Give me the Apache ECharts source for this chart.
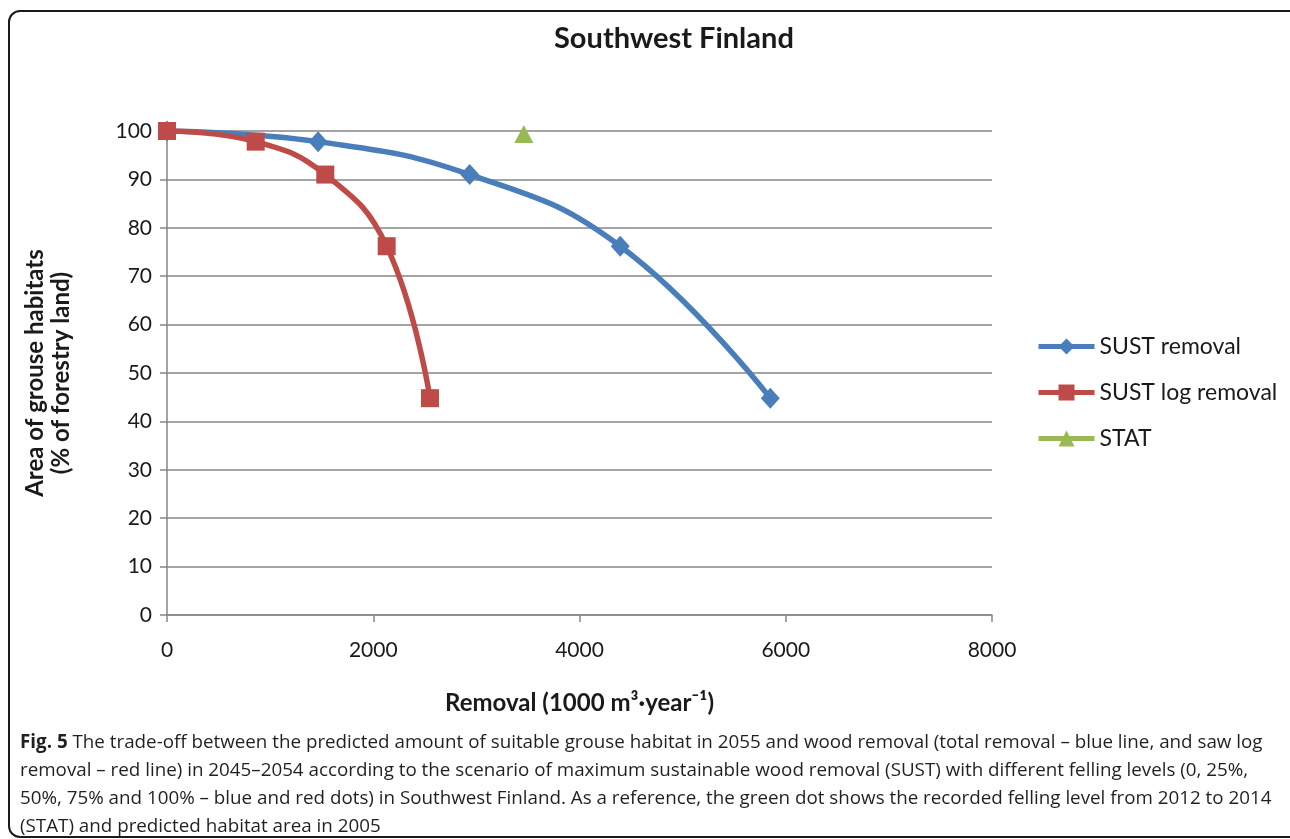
<!DOCTYPE html>
<html>
<head>
<meta charset="utf-8">
<script src="https://cdn.jsdelivr.net/npm/echarts@6/dist/echarts.min.js"></script>
<style>
  html, body { margin: 0; padding: 0; background: #ffffff; width: 1290px; height: 839px; overflow: hidden; }
  #frame { position: absolute; left: 8px; top: 10px; width: 1300px; height: 828px; border: 2px solid #1a1a1a; border-radius: 12px; box-sizing: border-box; }
  #chart { position: absolute; left: 0; top: 0; width: 1290px; height: 839px; }
  #caption { position: absolute; left: 20px; top: 727px; font-family: "Open Sans", "Noto Sans", sans-serif; font-size: 18.8px; line-height: 28px; color: #231f20; white-space: nowrap; }
  #caption b { font-weight: 700; }
</style>
</head>
<body>
<div id="frame"></div>
<div id="chart"></div>
<div id="caption"><b>Fig. 5</b> The trade-off between the predicted amount of suitable grouse habitat in 2055 and wood removal (total removal – blue line, and saw log<br>removal – red line) in 2045–2054 according to the scenario of maximum sustainable wood removal (SUST) with different felling levels (0, 25%,<br>50%, 75% and 100% – blue and red dots) in Southwest Finland. As a reference, the green dot shows the recorded felling level from 2012 to 2014<br>(STAT) and predicted habitat area in 2005</div>
<script>
// ---- data ----
const seriesNames = ['SUST removal', 'SUST log removal', 'STAT'];
const sustRemoval = [0, 1465, 2935, 4395, 5850];
const sustHabitat = [100, 97.8, 91.0, 76.2, 44.8];
const logRemoval = [0, 860, 1535, 2130, 2550];
const logHabitat = [100, 97.8, 91.0, 76.2, 44.8];
const statRemoval = [3460];
const statHabitat = [99.4];
const xTicks = [0, 2000, 4000, 6000, 8000];
const yTicks = [0, 10, 20, 30, 40, 50, 60, 70, 80, 90, 100];

const pairs = (xs, ys) => xs.map((x, i) => [x, ys[i]]);

const chart = echarts.init(document.getElementById('chart'), null, { renderer: 'canvas' });
const FONT = 'Lato, "Open Sans", sans-serif';
const gridColor = '#868686';
const txt = '#1a1a1a';

chart.setOption({
  backgroundColor: 'transparent',
  animation: false,
  title: {
    text: 'Southwest Finland',
    left: 549,
    top: 19,
    textStyle: { fontFamily: FONT, fontWeight: 'bold', fontSize: 29, color: txt }
  },
  legend: {
    orient: 'vertical',
    left: 1031,
    top: 330,
    itemWidth: 56,
    itemHeight: 20,
    itemGap: 23,
    data: seriesNames,
    lineStyle: { width: 5 },
    textStyle: { fontFamily: FONT, fontSize: 23, color: txt }
  },
  grid: { left: 167, right: 298, top: 131, bottom: 224, outerBoundsMode: 'none' },
  xAxis: {
    type: 'value',
    min: xTicks[0],
    max: xTicks[xTicks.length - 1],
    interval: 2000,
    name: 'Removal (1000 m³·year⁻¹)',
    nameLocation: 'middle',
    nameGap: 76,
    nameTextStyle: { fontFamily: FONT, fontWeight: 'bold', fontSize: 24, color: txt },
    axisLine: { show: true, lineStyle: { color: gridColor, width: 1.5 } },
    axisTick: { show: true, inside: false, length: 7, lineStyle: { color: gridColor, width: 1.5 } },
    axisLabel: { fontFamily: FONT, fontSize: 21, color: txt, margin: 25, formatter: v => String(v) },
    splitLine: { show: false }
  },
  yAxis: {
    type: 'value',
    min: yTicks[0],
    max: yTicks[yTicks.length - 1],
    interval: 10,
    name: 'Area of grouse habitats\n(% of forestry land)',
    nameLocation: 'middle',
    nameGap: 93,
    nameRotate: 90,
    nameTextStyle: { fontFamily: FONT, fontWeight: 'bold', fontSize: 24, color: txt, lineHeight: 26 },
    axisLine: { show: true, lineStyle: { color: gridColor, width: 1.5 } },
    axisTick: { show: true, inside: false, length: 7, lineStyle: { color: gridColor, width: 1.5 } },
    axisLabel: { fontFamily: FONT, fontSize: 21, color: txt, margin: 15, formatter: v => String(v) },
    splitLine: { show: true, lineStyle: { color: gridColor, width: 1.5 } }
  },
  series: [
    {
      name: seriesNames[0],
      type: 'line',
      data: pairs(sustRemoval, sustHabitat),
      smooth: 0.45,
      symbol: 'diamond',
      symbolSize: [19, 21],
      lineStyle: { color: '#4a7ebb', width: 5.5 },
      itemStyle: { color: '#4a7ebb' },
      z: 3
    },
    {
      name: seriesNames[1],
      type: 'line',
      data: pairs(logRemoval, logHabitat),
      smooth: 0.45,
      symbol: 'rect',
      symbolSize: 18,
      lineStyle: { color: '#be4b48', width: 5.5 },
      itemStyle: { color: '#be4b48' },
      z: 4
    },
    {
      name: seriesNames[2],
      type: 'line',
      data: pairs(statRemoval, statHabitat),
      symbol: 'triangle',
      symbolSize: [19, 18],
      lineStyle: { color: '#98b954', width: 5.5 },
      itemStyle: { color: '#98b954' },
      z: 5
    }
  ]
});
</script>
</body>
</html>
